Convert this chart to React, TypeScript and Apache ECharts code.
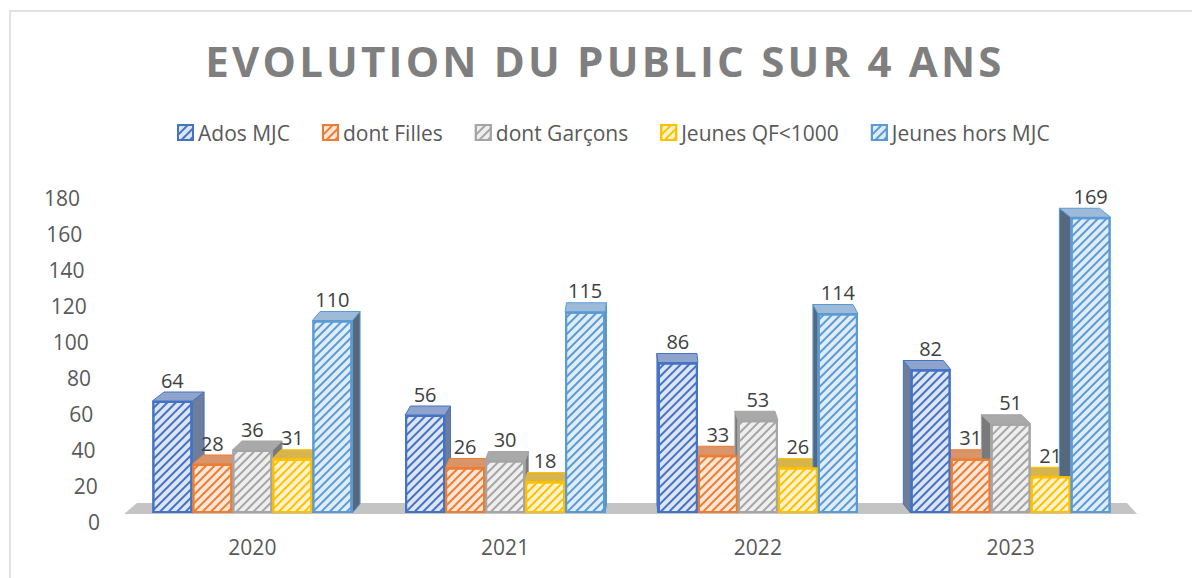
import React, { useEffect, useRef } from "react";
import * as echarts from "echarts";

const categories = ["2020", "2021", "2022", "2023"];
const adosMJC = [64, 56, 86, 82];
const dontFilles = [28, 26, 33, 31];
const dontGarcons = [36, 30, 53, 51];
const jeunesQF = [31, 18, 26, 21];
const jeunesHorsMJC = [110, 115, 114, 169];
const seriesNames = ["Ados MJC", "dont Filles", "dont Garçons", "Jeunes QF<1000", "Jeunes hors MJC"];
const yTicks = [0, 20, 40, 60, 80, 100, 120, 140, 160, 180];
const TITLE = "EVOLUTION DU PUBLIC SUR 4 ANS";

const borderColors = ["#4472c4", "#ed7d31", "#a5a5a5", "#ffc000", "#5b9bd5"];
const fillColors = ["#dde5f4", "#fbe6d8", "#eeeeee", "#fff3cf", "#e0edf8"];
const topColors = ["#8ea4cc", "#d9946a", "#a9a9a9", "#d8b44c", "#9dbbd9"];
const sideColors = ["#6d7d9a", "#b8774e", "#7a7a7a", "#bda047", "#56687e"];

const BAR_W = 40;
const VP_X = 640;
const K = 0.025;
const DEPTH_Y = 9;
const FONT = "'Open Sans', sans-serif";

export default function App() {
  const ref = useRef<HTMLDivElement>(null);
  useEffect(() => {
    if (!ref.current) return;
    const chart = echarts.init(ref.current, null, { renderer: "svg" });
    const allValues = [adosMJC, dontFilles, dontGarcons, jeunesQF, jeunesHorsMJC];

    const rich: any = {};
    yTicks.forEach((v) => {
      rich["r" + v] = {
        fontSize: 21,
        color: "#595959",
        fontFamily: FONT,
        padding: [(180 - v) / 10, v / 9, 0, 0],
      };
    });

    const renderBoxes = (params: any, api: any) => {
      const idx = api.value(0);
      const base = api.coord([idx, 0]);
      const cx = base[0];
      const baseY = base[1];
      const children: any[] = [];
      for (let j = 0; j < 5; j++) {
        const v = api.value(j + 1);
        const x0 = cx - 2.5 * BAR_W + j * BAR_W;
        const x1 = x0 + BAR_W;
        const topY = api.coord([idx, v])[1];
        const dx = (VP_X - (x0 + x1) / 2) * K;
        const dy = DEPTH_Y;
        const sx = dx > 0 ? x1 : x0;
        children.push({
          type: "polygon",
          shape: { points: [[sx, topY], [sx + dx, topY - dy], [sx + dx, baseY - dy], [sx, baseY]] },
          style: { fill: sideColors[j], stroke: borderColors[j], lineWidth: 1 },
        });
        children.push({
          type: "polygon",
          shape: { points: [[x0, topY], [x1, topY], [x1 + dx, topY - dy], [x0 + dx, topY - dy]] },
          style: { fill: topColors[j], stroke: borderColors[j], lineWidth: 1 },
        });
      }
      return { type: "group", children };
    };

    const renderFloor = (params: any, api: any) => {
      const cs = params.coordSys;
      const by = cs.y + cs.height;
      return {
        type: "polygon",
        shape: {
          points: [
            [cs.x - 2, by + 1],
            [cs.x + cs.width, by + 1],
            [cs.x + cs.width - 10, by - 10],
            [cs.x + 11, by - 10],
          ],
        },
        style: { fill: "#c4c4c4" },
      };
    };

    const barSeries = allValues.map((vals, j) => ({
      type: "bar",
      name: seriesNames[j],
      data: vals,
      barWidth: BAR_W,
      barGap: "0%",
      z: 3,
      itemStyle: {
        color: fillColors[j],
        borderColor: borderColors[j],
        borderWidth: 2,
        decal: {
          symbol: "rect",
          symbolSize: 1,
          color: borderColors[j],
          dashArrayX: [1, 0],
          dashArrayY: [1.6, 3.6],
          rotation: -Math.PI / 4,
        },
      },
      label: {
        show: true,
        position: "top",
        distance: 11,
        fontSize: 20,
        color: "#404040",
        fontFamily: FONT,
      },
    }));

    chart.setOption({
      animation: false,
      aria: { enabled: false, decal: { show: true } },
      title: {
        text: TITLE,
        left: "center",
        top: 34,
        textStyle: { fontSize: 42, fontWeight: "bold", color: "#7f7f7f", fontFamily: FONT },
      },
      legend: {
        top: 117,
        left: 172,
        icon: "rect",
        itemWidth: 15,
        itemHeight: 15,
        itemGap: 32,
        textStyle: { fontSize: 21, color: "#595959", fontFamily: FONT },
        data: seriesNames,
      },
      grid: { left: 126, right: 55, top: 198, bottom: 65, containLabel: false },
      xAxis: {
        type: "category",
        data: categories,
        axisLine: { show: false },
        axisTick: { show: false },
        axisLabel: { fontSize: 21, color: "#595959", fontFamily: FONT, margin: 23 },
      },
      yAxis: {
        type: "value",
        min: 0,
        max: 180,
        interval: 20,
        axisLine: { show: false },
        axisTick: { show: false },
        splitLine: { show: false },
        axisLabel: {
          margin: 26,
          formatter: (v: number) => "{r" + v + "|" + v + "}",
          rich,
        },
      },
      graphic: [
        {
          type: "rect",
          shape: { x: 10, y: 11, width: 1200, height: 600 },
          style: { fill: "none", stroke: "#d9d9d9", lineWidth: 1.5 },
          silent: true,
        },
      ],
      series: [
        {
          type: "custom",
          name: "floor",
          renderItem: renderFloor,
          data: [[0, 0]],
          z: 0,
          silent: true,
        },
        {
          type: "custom",
          name: "boxes",
          renderItem: renderBoxes,
          data: categories.map((c, i) => [i, adosMJC[i], dontFilles[i], dontGarcons[i], jeunesQF[i], jeunesHorsMJC[i]]),
          encode: { x: 0, y: [1, 2, 3, 4, 5] },
          z: 1,
          silent: true,
        },
        ...barSeries,
      ],
    });

    const spaceTitle = () => {
      const root = ref.current;
      if (!root) return;
      const texts = Array.from(root.querySelectorAll("text")) as SVGTextElement[];
      const el = texts.find((t) => (t.textContent || "").trim() === TITLE);
      if (!el || el.getAttribute("data-spaced")) return;
      el.setAttribute("data-spaced", "1");
      el.style.letterSpacing = "3.2px";
      const rect = el.getBoundingClientRect();
      const rootRect = root.getBoundingClientRect();
      const center = rect.left - rootRect.left + rect.width / 2;
      const delta = 605 - center;
      const x = parseFloat(el.getAttribute("x") || "0");
      el.setAttribute("x", String(x + delta));
    };
    spaceTitle();
    const t = setTimeout(spaceTitle, 0);
    return () => {
      clearTimeout(t);
      chart.dispose();
    };
  }, []);
  return (
    <div
      ref={ref}
      style={{ position: "fixed", left: 0, top: 0, width: 1192, height: 578, background: "#fff" }}
    />
  );
}
